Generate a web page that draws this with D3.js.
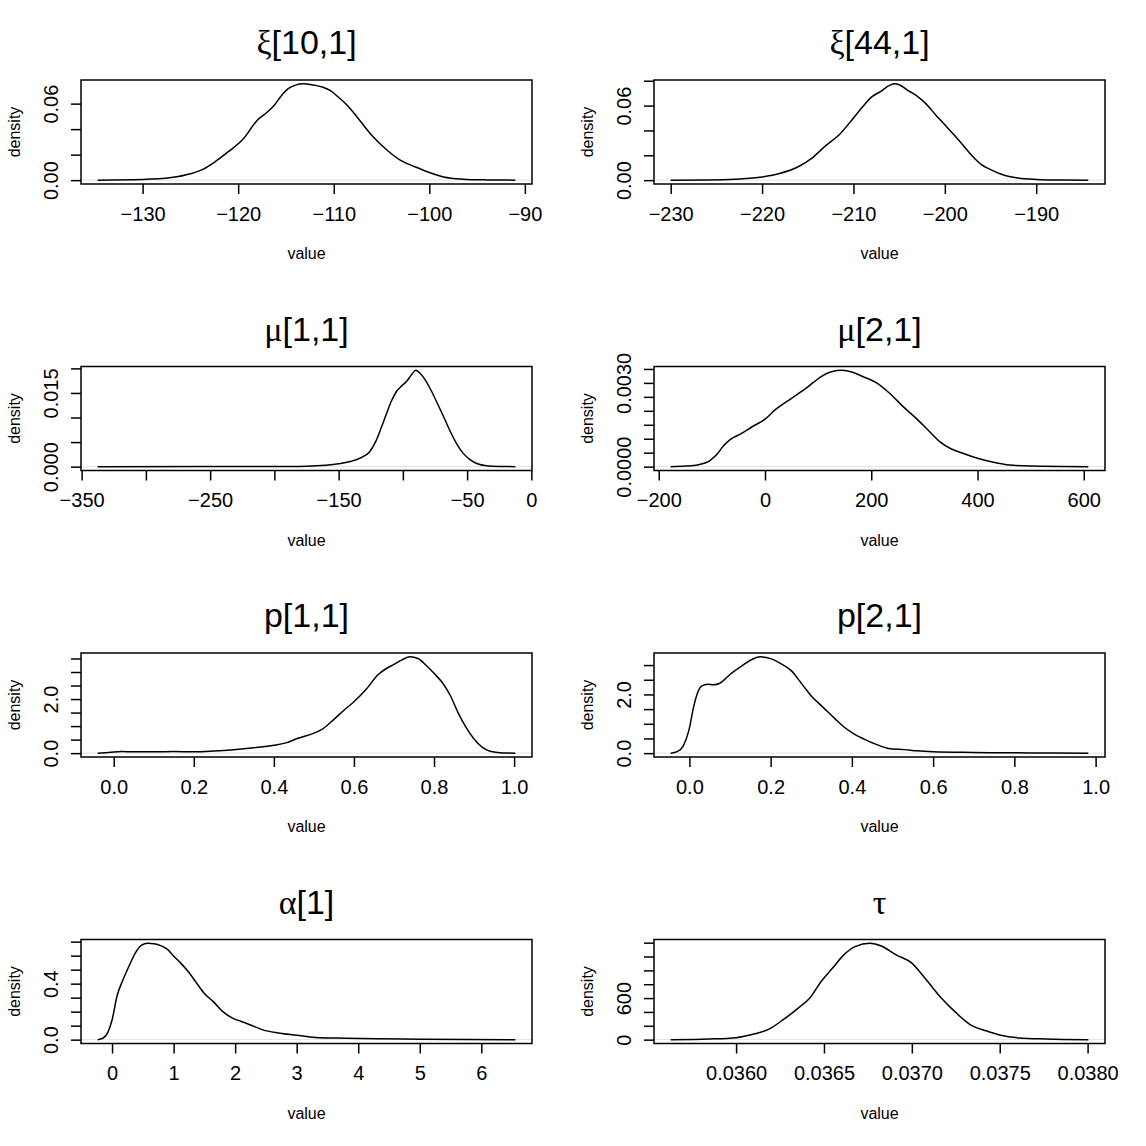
<!DOCTYPE html>
<html>
<head>
<meta charset="utf-8">
<script src="https://cdn.jsdelivr.net/npm/d3@7"></script>
<style>
  body { margin: 0; background: #fff; }
  svg { display: block; }
</style>
</head>
<body>
<div id="chart"></div>
<script>
"use strict";

// panel titles (first char greek -> symbol-like font)
const titles = ["ξ[10,1]", "ξ[44,1]", "μ[1,1]", "μ[2,1]", "p[1,1]", "p[2,1]", "α[1]", "τ"];



// xi[10,1]
const xi10_value   = [-134.7, -130, -127, -125, -123.7, -122.5, -121, -119.5, -118, -117, -116.2, -115.5, -114.8, -114, -113.2, -112.3, -111.2, -110.3, -109.5, -108.5, -107.5, -106, -104.5, -103, -101.5, -100, -98.5, -96.5, -94, -91];
const xi10_density = [0, 0.0005, 0.002, 0.005, 0.0085, 0.014, 0.0225, 0.032, 0.047, 0.053, 0.059, 0.066, 0.0715, 0.0745, 0.0755, 0.0748, 0.073, 0.070, 0.065, 0.058, 0.049, 0.035, 0.024, 0.0155, 0.0105, 0.006, 0.0025, 0.0008, 0.0002, 0];
const xi10_xTicks  = [-130, -120, -110, -100, -90];
const xi10_xLabels = ["−130", "−120", "−110", "−100", "−90"];
const xi10_yTicks  = [0, 0.02, 0.04, 0.06];
const xi10_yLabels = ["0.00", "", "", "0.06"];

// xi[44,1]
const xi44_value   = [-230, -226, -223, -220, -218, -216, -214.5, -213, -211.5, -210, -209, -208, -207, -206, -205.5, -205, -204, -203, -202, -201, -200, -199, -198, -197, -196, -195, -193.5, -192, -190, -187, -184.3];
const xi44_density = [0, 0.0002, 0.0008, 0.0025, 0.0055, 0.011, 0.018, 0.028, 0.037, 0.050, 0.059, 0.067, 0.0715, 0.0765, 0.0775, 0.0768, 0.072, 0.0675, 0.061, 0.0525, 0.0445, 0.0365, 0.028, 0.0195, 0.0125, 0.0085, 0.004, 0.0017, 0.0006, 0.0001, 0];
const xi44_xTicks  = [-230, -220, -210, -200, -190];
const xi44_xLabels = ["−230", "−220", "−210", "−200", "−190"];
const xi44_yTicks  = [0, 0.02, 0.04, 0.06, 0.08];
const xi44_yLabels = ["0.00", "", "", "0.06", ""];

// mu[1,1]
const mu1_value   = [-337.5, -250, -200, -175, -160, -150, -140, -132, -126, -121, -117, -113, -109, -105, -101, -97, -93, -90, -87, -83, -78, -73, -68, -63, -58, -53, -48, -42, -35, -25, -12.5];
const mu1_density = [0, 0.00001, 0.00003, 0.0001, 0.0003, 0.0006, 0.0011, 0.0019, 0.0030, 0.0052, 0.0078, 0.0106, 0.0133, 0.0153, 0.0164, 0.0174, 0.0188, 0.0196, 0.0191, 0.0178, 0.0155, 0.0128, 0.0100, 0.0071, 0.0046, 0.0027, 0.0015, 0.0006, 0.0002, 0.00004, 0];
const mu1_xTicks  = [-350, -300, -250, -200, -150, -100, -50, 0];
const mu1_xLabels = ["−350", "", "−250", "", "−150", "", "−50", "0"];
const mu1_yTicks  = [0, 0.005, 0.010, 0.015, 0.020];
const mu1_yLabels = ["0.000", "", "", "0.015", ""];

// mu[2,1]
const mu2_value   = [-177.5, -150, -125, -105, -90, -78, -65, -45, -25, 0, 20, 50, 80, 105, 125, 145, 165, 185, 210, 235, 260, 285, 310, 330, 350, 375, 400, 430, 460, 500, 608.5];
const mu2_density = [0, 0.00002, 0.00007, 0.00020, 0.00045, 0.00075, 0.00098, 0.00118, 0.00142, 0.00170, 0.00205, 0.00245, 0.00285, 0.00322, 0.00340, 0.00345, 0.00338, 0.00322, 0.00300, 0.00262, 0.00215, 0.00172, 0.00125, 0.00088, 0.00064, 0.00046, 0.00030, 0.00016, 0.00006, 0.00002, 0];
const mu2_xTicks  = [-200, 0, 200, 400, 600];
const mu2_xLabels = ["−200", "0", "200", "400", "600"];
const mu2_yTicks  = [0, 0.0005, 0.0010, 0.0015, 0.0020, 0.0025, 0.0030, 0.0035];
const mu2_yLabels = ["0.0000", "", "", "", "", "", "0.0030", ""];

// p[1,1]
const p1_value   = [-0.040, -0.01, 0.02, 0.05, 0.10, 0.15, 0.20, 0.25, 0.30, 0.35, 0.40, 0.43, 0.46, 0.50, 0.52, 0.55, 0.58, 0.60, 0.63, 0.66, 0.68, 0.70, 0.72, 0.74, 0.76, 0.78, 0.80, 0.82, 0.84, 0.86, 0.88, 0.90, 0.92, 0.94, 0.97, 1.003];
const p1_density = [0, 0.03, 0.06, 0.05, 0.05, 0.06, 0.05, 0.08, 0.13, 0.20, 0.29, 0.38, 0.55, 0.74, 0.88, 1.25, 1.65, 1.90, 2.35, 2.90, 3.12, 3.28, 3.45, 3.56, 3.50, 3.25, 2.95, 2.62, 2.15, 1.50, 0.95, 0.52, 0.22, 0.07, 0.01, 0];
const p1_xTicks  = [0, 0.2, 0.4, 0.6, 0.8, 1.0];
const p1_xLabels = ["0.0", "0.2", "0.4", "0.6", "0.8", "1.0"];
const p1_yTicks  = [0, 0.5, 1.0, 1.5, 2.0, 2.5, 3.0, 3.5];
const p1_yLabels = ["0.0", "", "", "", "2.0", "", "", ""];

// p[2,1]
const p2_value   = [-0.046, -0.03, -0.015, 0.0, 0.01, 0.02, 0.03, 0.045, 0.06, 0.075, 0.10, 0.13, 0.155, 0.175, 0.20, 0.225, 0.25, 0.28, 0.30, 0.33, 0.36, 0.38, 0.40, 0.43, 0.46, 0.49, 0.53, 0.56, 0.60, 0.70, 0.80, 0.90, 0.982];
const p2_density = [0, 0.05, 0.25, 0.85, 1.55, 2.05, 2.28, 2.35, 2.33, 2.38, 2.68, 2.98, 3.20, 3.28, 3.22, 3.05, 2.82, 2.30, 1.95, 1.55, 1.15, 0.90, 0.70, 0.48, 0.30, 0.16, 0.12, 0.08, 0.05, 0.025, 0.01, 0.005, 0];
const p2_xTicks  = [0, 0.2, 0.4, 0.6, 0.8, 1.0];
const p2_xLabels = ["0.0", "0.2", "0.4", "0.6", "0.8", "1.0"];
const p2_yTicks  = [0, 0.5, 1.0, 1.5, 2.0, 2.5, 3.0];
const p2_yLabels = ["0.0", "", "", "", "2.0", "", ""];

// alpha[1]
const alpha_value   = [-0.233, -0.15, -0.07, 0.0, 0.08, 0.18, 0.28, 0.38, 0.48, 0.58, 0.68, 0.80, 0.90, 1.00, 1.12, 1.25, 1.38, 1.50, 1.65, 1.80, 1.95, 2.10, 2.25, 2.45, 2.70, 3.00, 3.30, 3.80, 4.30, 5.00, 5.80, 6.552];
const alpha_density = [0, 0.01, 0.05, 0.14, 0.31, 0.43, 0.53, 0.62, 0.675, 0.688, 0.685, 0.670, 0.645, 0.598, 0.545, 0.480, 0.400, 0.330, 0.270, 0.200, 0.155, 0.130, 0.105, 0.070, 0.048, 0.032, 0.016, 0.010, 0.006, 0.003, 0.001, 0];
const alpha_xTicks  = [0, 1, 2, 3, 4, 5, 6];
const alpha_xLabels = ["0", "1", "2", "3", "4", "5", "6"];
const alpha_yTicks  = [0, 0.1, 0.2, 0.3, 0.4, 0.5, 0.6, 0.7];
const alpha_yLabels = ["0.0", "", "", "", "0.4", "", "", ""];

// tau
const tau_value   = [0.035628, 0.035847, 0.036000, 0.036102, 0.036187, 0.036272, 0.036357, 0.036421, 0.036485, 0.036549, 0.036613, 0.036677, 0.036762, 0.036826, 0.036911, 0.037000, 0.037081, 0.037166, 0.037251, 0.037336, 0.037421, 0.037500, 0.037613, 0.037762, 0.038004];
const tau_density = [0, 10, 29, 81, 152, 295, 462, 605, 843, 1033, 1224, 1343, 1390, 1352, 1224, 1105, 867, 605, 390, 210, 129, 67, 24, 10, 0];
const tau_xTicks  = [0.0360, 0.0365, 0.0370, 0.0375, 0.0380];
const tau_xLabels = ["0.0360", "0.0365", "0.0370", "0.0375", "0.0380"];
const tau_yTicks  = [0, 200, 400, 600, 800, 1000, 1200, 1400];
const tau_yLabels = ["0", "", "", "600", "", "", "", ""];



// panel table built from the arrays above
const panels = [
    {value: xi10_value,  density: xi10_density,  xTicks: xi10_xTicks,  xLabels: xi10_xLabels,  yTicks: xi10_yTicks,  yLabels: xi10_yLabels},
    {value: xi44_value,  density: xi44_density,  xTicks: xi44_xTicks,  xLabels: xi44_xLabels,  yTicks: xi44_yTicks,  yLabels: xi44_yLabels},
    {value: mu1_value,   density: mu1_density,   xTicks: mu1_xTicks,   xLabels: mu1_xLabels,   yTicks: mu1_yTicks,   yLabels: mu1_yLabels},
    {value: mu2_value,   density: mu2_density,   xTicks: mu2_xTicks,   xLabels: mu2_xLabels,   yTicks: mu2_yTicks,   yLabels: mu2_yLabels},
    {value: p1_value,    density: p1_density,    xTicks: p1_xTicks,    xLabels: p1_xLabels,    yTicks: p1_yTicks,    yLabels: p1_yLabels},
    {value: p2_value,    density: p2_density,    xTicks: p2_xTicks,    xLabels: p2_xLabels,    yTicks: p2_yTicks,    yLabels: p2_yLabels},
    {value: alpha_value, density: alpha_density, xTicks: alpha_xTicks, xLabels: alpha_xLabels, yTicks: alpha_yTicks, yLabels: alpha_yLabels},
    {value: tau_value,   density: tau_density,   xTicks: tau_xTicks,   xLabels: tau_xLabels,   yTicks: tau_yTicks,   yLabels: tau_yLabels}
];



// layout
const width = 1146, height = 1146;
const cellW = 573, cellH = 286.5;
const margin = {left: 81, right: 41, top: 80};
const plotH = 104;
const sansFont = "'Liberation Sans', Arial, Helvetica, sans-serif";
const greekFont = "'Liberation Serif', 'DejaVu Serif', serif";
const lineW = 1.5;



let svg = d3.select("#chart")
.append("svg")
.attr("width", width)
.attr("height", height)
.style("background", "#fff");



function drawPanel(p, i) {
    const col = i % 2,
          row = Math.floor(i / 2);
    const x0 = col * cellW + margin.left,
          x1 = col * cellW + cellW - margin.right,
          y0 = row * cellH + margin.top,
          y1 = y0 + plotH;

    // R style 4% padding on both scales
    let xExt = d3.extent(p.value),
        yExt = d3.extent(p.density);
    let xPad = (xExt[1] - xExt[0]) * 0.04,
        yPad = (yExt[1] - yExt[0]) * 0.04;

    let scaleX = d3.scaleLinear()
    .domain([xExt[0] - xPad, xExt[1] + xPad])
    .range([x0, x1]);

    let scaleY = d3.scaleLinear()
    .domain([yExt[0] - yPad, yExt[1] + yPad])
    .range([y1, y0]);

    let g = svg.append("g").attr("class", "panel");

    // faint zero line
    g.append("line")
    .attr("x1", x0)
    .attr("x2", x1)
    .attr("y1", scaleY(0))
    .attr("y2", scaleY(0))
    .attr("stroke", "#e2e2e2")
    .attr("stroke-width", 1);

    // density curve
    let line = d3.line()
    .x(d => scaleX(d[0]))
    .y(d => scaleY(d[1]))
    .curve(d3.curveMonotoneX);

    g.append("path")
    .datum(d3.zip(p.value, p.density))
    .attr("d", line)
    .attr("fill", "none")
    .attr("stroke", "#000")
    .attr("stroke-width", lineW)
    .attr("stroke-linejoin", "round");

    // x axis
    let xAxis = g.append("g")
    .attr("class", "x_axis")
    .attr("transform", `translate(0, ${y1})`)
    .call(d3.axisBottom(scaleX)
        .tickValues(p.xTicks)
        .tickFormat((_, k) => p.xLabels[k])
        .tickSizeInner(10)
        .tickSizeOuter(0)
        .tickPadding(12.5));
    xAxis.select(".domain").remove();
    xAxis.selectAll(".tick line").attr("stroke-width", lineW);
    xAxis.selectAll(".tick text")
    .attr("font-size", 20)
    .attr("font-family", sansFont)
    .attr("fill", "#000");

    // y axis, labels rotated like R
    let yAxis = g.append("g")
    .attr("class", "y_axis")
    .attr("transform", `translate(${x0}, 0)`)
    .call(d3.axisLeft(scaleY)
        .tickValues(p.yTicks)
        .tickFormat((_, k) => p.yLabels[k])
        .tickSizeInner(10)
        .tickSizeOuter(0));
    yAxis.select(".domain").remove();
    yAxis.selectAll(".tick line").attr("stroke-width", lineW);
    yAxis.selectAll(".tick text")
    .attr("transform", "rotate(-90)")
    .attr("x", 0)
    .attr("y", -23)
    .attr("dy", 0)
    .attr("text-anchor", "middle")
    .attr("font-size", 20)
    .attr("font-family", sansFont)
    .attr("fill", "#000");

    // box
    g.append("rect")
    .attr("x", x0)
    .attr("y", y0)
    .attr("width", x1 - x0)
    .attr("height", y1 - y0)
    .attr("fill", "none")
    .attr("stroke", "#000")
    .attr("stroke-width", lineW);

    // title
    let title = titles[i];
    let t = g.append("text")
    .attr("x", (x0 + x1) / 2)
    .attr("y", y0 - 26)
    .attr("text-anchor", "middle")
    .attr("font-size", 34)
    .attr("font-family", sansFont)
    .attr("fill", "#000");
    if (/[\u0370-\u03FF]/.test(title[0])) {
        t.append("tspan").attr("font-family", greekFont).text(title[0]);
        t.append("tspan").text(title.slice(1));
    }
    else {
        t.text(title);
    }

    // axis titles
    g.append("text")
    .attr("x", (x0 + x1) / 2)
    .attr("y", y1 + 75)
    .attr("text-anchor", "middle")
    .attr("font-size", 16)
    .attr("font-family", sansFont)
    .attr("fill", "#000")
    .text("value");

    g.append("text")
    .attr("transform", `translate(${col * cellW + 20}, ${(y0 + y1) / 2}) rotate(-90)`)
    .attr("text-anchor", "middle")
    .attr("font-size", 16)
    .attr("font-family", sansFont)
    .attr("fill", "#000")
    .text("density");
}



panels.forEach((p, i) => drawPanel(p, i));
</script>
</body>
</html>
